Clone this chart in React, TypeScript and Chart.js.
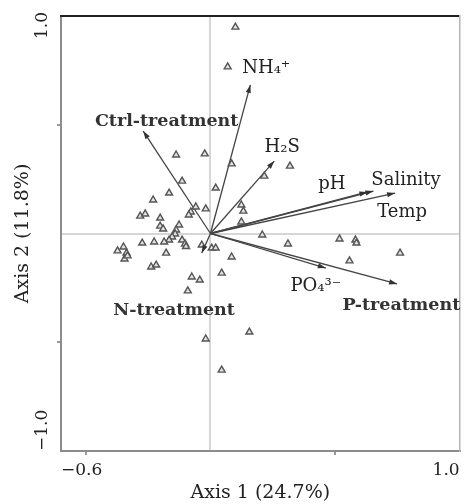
import React, { useEffect, useRef } from 'react';
import { Chart, registerables } from 'chart.js';

Chart.register(...registerables);

// Site scores (triangles)
const siteX = [
  0.100, 0.069, -0.138, -0.023, 0.085, 0.319, 0.216, -0.114, 0.021, -0.166,
  -0.230, -0.059, -0.019, -0.079, -0.087, -0.282, -0.262, -0.202, 0.124, 0.132,
  0.124, -0.202, -0.190, -0.126, -0.138, -0.142, -0.154, -0.166, -0.186, -0.226,
  -0.274, -0.114, -0.102, -0.098, -0.178, -0.373, -0.349, -0.337, -0.345, -0.333,
  -0.035, 0.005, 0.021, 0.085, -0.238, -0.218, -0.075, -0.043, -0.091, 0.045,
  -0.019, 0.045, 0.156, 0.208, 0.311, 0.518, 0.582, 0.586, 0.558, 0.761,
];
const siteY = [
  0.949, 0.766, 0.361, 0.366, 0.320, 0.310, 0.264, 0.241, 0.209, 0.186,
  0.154, 0.122, 0.113, 0.099, 0.085, 0.080, 0.090, 0.071, 0.131, 0.103,
  0.053, 0.034, 0.021, 0.039, 0.016, -0.002, -0.016, -0.030, -0.039, -0.039,
  -0.044, -0.030, -0.048, -0.060, -0.090, -0.080, -0.062, -0.090, -0.117, -0.103,
  -0.053, -0.067, -0.067, -0.108, -0.154, -0.145, -0.200, -0.214, -0.264, -0.182,
  -0.485, -0.628, -0.453, -0.007, -0.048, -0.025, -0.030, -0.044, -0.126, -0.090,
];

// Environmental / treatment vectors
const vectorNames = ['NH₄⁺', 'Ctrl-treatment', 'H₂S', 'pH', 'Salinity', 'Temp', 'PO₄³⁻', 'P-treatment', 'N-treatment'];
const vectorX = [0.160, -0.270, 0.256, 0.630, 0.654, 0.741, 0.463, 0.749, -0.035];
const vectorY = [0.683, 0.471, 0.333, 0.191, 0.195, 0.186, -0.159, -0.232, -0.090];
const vectorIsTreatment = [false, true, false, false, false, false, false, true, true];
// label anchors (data units)
const labelX = [0.224, -0.176, 0.288, 0.487, 0.785, 0.769, 0.423, 0.530, -0.146];
const labelY = [0.761, 0.513, 0.398, 0.228, 0.246, 0.099, -0.241, -0.329, -0.352];
const labelAlign = ['center', 'center', 'center', 'center', 'center', 'center', 'center', 'left', 'center'];

const xTickValues = [-0.6, -0.5, 0, 0.5, 1.0];
const xTickLabels = ['−0.6', '', '', '', '1.0'];
const yTickValues = [-1.0, -0.5, 0, 0.5, 1.0];
const yTickLabels = ['−1.0', '', '', '', '1.0'];
const xTitle = 'Axis 1 (24.7%)';
const yTitle = 'Axis 2 (11.8%)';

const FONT = '"DejaVu Serif", "Liberation Serif", serif';

const extrasPlugin = {
  id: 'biplotExtras',
  afterDatasetsDraw(chart: any) {
    const { ctx, scales } = chart;
    const x = scales.x;
    const y = scales.y;
    const ox = x.getPixelForValue(0);
    const oy = y.getPixelForValue(0);
    ctx.save();
    // arrowheads
    ctx.fillStyle = '#333';
    for (let i = 0; i < vectorX.length; i++) {
      const tx = x.getPixelForValue(vectorX[i]);
      const ty = y.getPixelForValue(vectorY[i]);
      const ang = Math.atan2(ty - oy, tx - ox);
      const len = 8;
      const half = 2.6;
      const c = Math.cos(ang);
      const s = Math.sin(ang);
      const bx = tx - len * c;
      const by = ty - len * s;
      ctx.beginPath();
      ctx.moveTo(tx, ty);
      ctx.lineTo(bx + half * s, by - half * c);
      ctx.lineTo(bx - half * s, by + half * c);
      ctx.closePath();
      ctx.fill();
    }
    // labels
    ctx.textBaseline = 'middle';
    for (let i = 0; i < vectorNames.length; i++) {
      const bold = vectorIsTreatment[i];
      ctx.font = (bold ? 'bold 17.5px ' : '18px ') + FONT;
      ctx.fillStyle = bold ? '#333' : '#222';
      ctx.textAlign = labelAlign[i];
      ctx.fillText(vectorNames[i], x.getPixelForValue(labelX[i]), y.getPixelForValue(labelY[i]));
    }
    ctx.restore();
  },
  afterDraw(chart: any) {
    const { ctx, scales, chartArea } = chart;
    const y = scales.y;
    ctx.save();
    ctx.font = '17px ' + FONT;
    ctx.fillStyle = '#222';
    ctx.textBaseline = 'middle';
    for (let i = 0; i < yTickValues.length; i++) {
      const lab = yTickLabels[i];
      if (!lab) continue;
      const py = y.getPixelForValue(yTickValues[i]);
      ctx.save();
      ctx.translate(chartArea.left - 18, py);
      ctx.rotate(-Math.PI / 2);
      if (i === yTickValues.length - 1) {
        ctx.textAlign = 'right';
        ctx.fillText(lab, 4, 0);
      } else {
        ctx.textAlign = 'left';
        ctx.fillText(lab, 0, 0);
      }
      ctx.restore();
    }
    ctx.restore();
  },
};

export default function App() {
  const canvasRef = useRef<HTMLCanvasElement | null>(null);

  useEffect(() => {
    if (!canvasRef.current) return;
    const sites = siteX.map((vx, i) => ({ x: vx, y: siteY[i] }));
    const arrowSets = vectorX.map((vx, i) => ({
      label: vectorNames[i],
      data: [{ x: 0, y: 0 }, { x: vx, y: vectorY[i] }],
      showLine: true,
      borderColor: '#444',
      borderWidth: 1.3,
      pointRadius: 0,
      pointHoverRadius: 0,
    }));

    const zeroGrid = (c: any) => (c.tick && c.tick.value === 0 ? '#d6d6d6' : 'rgba(0,0,0,0)');
    const halfTick = (c: any) => (c.tick && Math.abs(Math.abs(c.tick.value) - 0.5) < 1e-9 ? '#777' : 'rgba(0,0,0,0)');

    const chart = new Chart(canvasRef.current, {
      type: 'scatter',
      data: {
        datasets: [
          {
            label: 'Sites',
            data: sites,
            pointStyle: 'triangle',
            pointRadius: 4,
            borderWidth: 1.4,
            borderColor: '#555',
            backgroundColor: '#e2e2e2',
          },
          ...arrowSets,
        ],
      },
      options: {
        responsive: false,
        animation: false,
        layout: { padding: { top: 16, right: 2, left: 0, bottom: 0 } },
        plugins: { legend: { display: false }, tooltip: { enabled: false } },
        scales: {
          x: {
            type: 'linear',
            position: 'bottom',
            min: -0.6,
            max: 1.0,
            afterBuildTicks: (s: any) => { s.ticks = xTickValues.map((v) => ({ value: v })); },
            afterFit: (s: any) => { s.height = 53; s.paddingLeft = 0; s.paddingRight = 0; },
            grid: { color: zeroGrid, lineWidth: 2, drawTicks: true, tickLength: 4, tickColor: halfTick, tickWidth: 1.5 },
            border: { display: true, color: '#8c8c8c', width: 2 },
            ticks: {
              align: 'inner',
              padding: 5,
              color: '#222',
              font: { family: FONT, size: 17 },
              callback: (_v: any, i: number) => xTickLabels[i],
            },
            title: { display: true, text: xTitle, color: '#222', font: { family: FONT, size: 19 }, padding: { top: 0, bottom: 0 } },
          },
          y: {
            type: 'linear',
            position: 'left',
            min: -1.0,
            max: 1.0,
            afterBuildTicks: (s: any) => { s.ticks = yTickValues.map((v) => ({ value: v })); },
            afterFit: (s: any) => { s.width = 61; s.paddingTop = 0; s.paddingBottom = 0; },
            grid: { color: zeroGrid, lineWidth: 2, drawTicks: true, tickLength: 4, tickColor: halfTick, tickWidth: 1.5 },
            border: { display: true, color: '#8c8c8c', width: 2 },
            ticks: { display: false },
            title: { display: true, text: yTitle, color: '#222', font: { family: FONT, size: 19 }, padding: { top: 11.5, bottom: 0 } },
          },
          x2: {
            type: 'linear',
            position: 'top',
            min: -0.6,
            max: 1.0,
            afterFit: (s: any) => { s.height = 0; s.paddingLeft = 0; s.paddingRight = 0; },
            grid: { display: false, drawTicks: false },
            border: { display: true, color: '#222', width: 2 },
            ticks: { display: false },
          },
          y2: {
            type: 'linear',
            position: 'right',
            min: -1.0,
            max: 1.0,
            afterFit: (s: any) => { s.width = 0; s.paddingTop = 0; s.paddingBottom = 0; },
            grid: { display: false, drawTicks: false },
            border: { display: true, color: '#b5b5b5', width: 1.5 },
            ticks: { display: false },
          },
        },
      },
      plugins: [extrasPlugin],
    } as any);

    return () => chart.destroy();
  }, []);

  return (
    <div style={{ position: 'absolute', left: 0, top: 0, width: 465, height: 504, background: '#fff' }}>
      <canvas ref={canvasRef} width={465} height={504} style={{ display: 'block' }} />
    </div>
  );
}
